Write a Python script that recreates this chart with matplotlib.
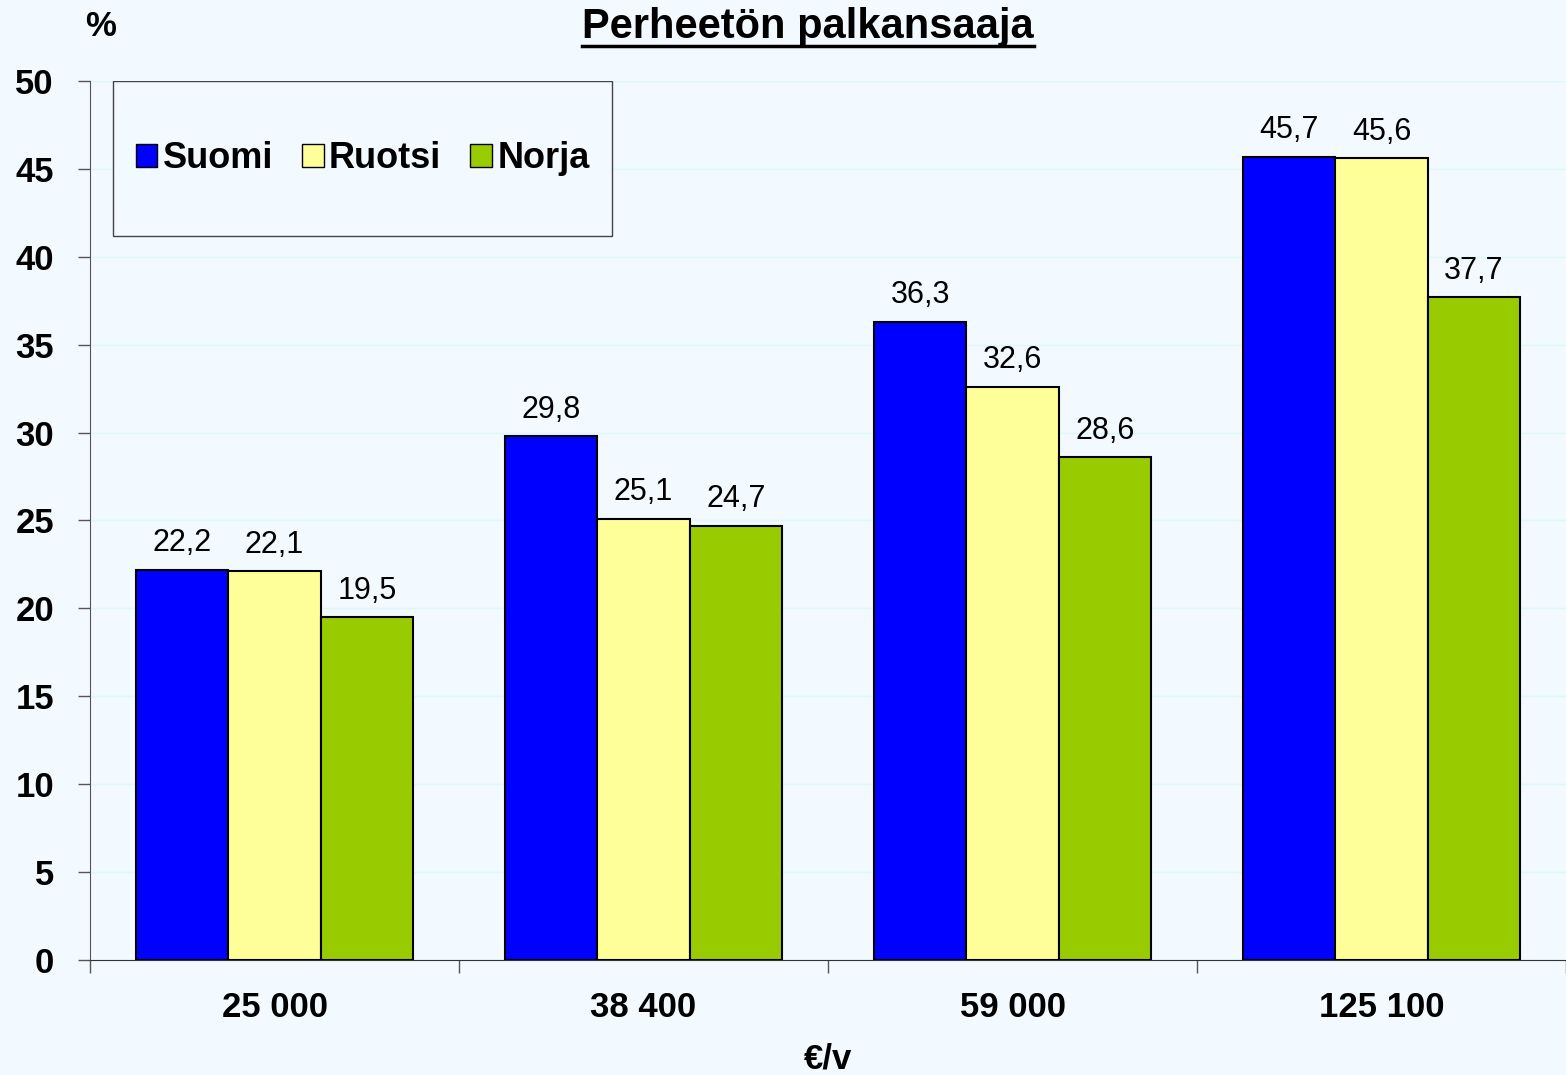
import numpy as np
import matplotlib.pyplot as plt
from matplotlib.patches import Rectangle
from matplotlib.lines import Line2D

plt.rcParams['font.family'] = ['Liberation Sans', 'DejaVu Sans']

categories = ['25 000', '38 400', '59 000', '125 100']
series_names = ['Suomi', 'Ruotsi', 'Norja']
suomi = [22.2, 29.8, 36.3, 45.7]
ruotsi = [22.1, 25.1, 32.6, 45.6]
norja = [19.5, 24.7, 28.6, 37.7]
colors = ['#0000FF', '#FFFF99', '#99CC00']

bg = '#F2F9FF'
fig = plt.figure(figsize=(15.66, 10.75), dpi=100, facecolor=bg)
ax = fig.add_axes([0.0575, 0.107, 0.9425, 0.8177], facecolor=bg)

x = np.arange(len(categories))
width = 0.25
for i, (vals, col) in enumerate(zip([suomi, ruotsi, norja], colors)):
    pos = x + (i - 1) * width
    bars = ax.bar(pos, vals, width, color=col, edgecolor='black', linewidth=1.5, zorder=3)
    for b, v in zip(bars, vals):
        ax.text(b.get_x() + b.get_width() / 2, v + 0.65, f'{v:.1f}'.replace('.', ','),
                ha='center', va='bottom', fontsize=22, zorder=4)

ax.set_xlim(-0.5, 3.5)
ax.set_ylim(0, 50)
ax.set_yticks(np.arange(0, 51, 5))
ax.yaxis.grid(True, color='#DDF8FA', linewidth=1, zorder=0)
ax.set_axisbelow(True)

# category ticks between groups, labels in the centre
ax.set_xticks(np.arange(-0.5, 4.0, 1.0))
ax.set_xticklabels([])
ax.set_xticks(x, minor=True)
ax.set_xticklabels(categories, minor=True, fontsize=25, fontweight='bold')
ax.tick_params(axis='x', which='minor', length=0, pad=22)
ax.tick_params(axis='x', which='major', length=9, width=1, color='#555555')
ax.tick_params(axis='y', length=9, width=1, color='#555555', labelsize=25, pad=17)
for lab in ax.get_yticklabels():
    lab.set_fontweight('bold')

for s in ['top', 'right']:
    ax.spines[s].set_visible(False)
ax.spines['left'].set_color('#555555')
ax.spines['bottom'].set_color('#333333')

ax.set_xlabel('€/v', fontsize=25, fontweight='bold', labelpad=14)

# legend inside a box
ax.add_patch(Rectangle((0.0156, 0.8237), 0.3381, 0.1763, transform=ax.transAxes,
                       facecolor=bg, edgecolor='#444444', linewidth=1, zorder=5))
handles = [Rectangle((0, 0), 1, 1, facecolor=c, edgecolor='black', linewidth=1) for c in colors]
leg = ax.legend(handles, series_names, loc='center', bbox_to_anchor=(0.1846, 0.9118),
                frameon=False, ncol=3, prop={'weight': 'bold', 'size': 26},
                handlelength=0.6, handleheight=0.6, handletextpad=0.15, columnspacing=0.8)
leg.set_zorder(6)

fig.text(0.064, 0.975, '%', fontsize=25, fontweight='bold', ha='center', va='center')
title = fig.text(0.516, 0.975, 'Perheetön palkansaaja', fontsize=30, fontweight='bold',
                 ha='center', va='center')

fig.canvas.draw()
bb = title.get_window_extent().transformed(fig.transFigure.inverted())
fig.add_artist(Line2D([bb.x0, bb.x1], [bb.y0 + 0.001, bb.y0 + 0.001], color='black',
                      linewidth=2.5, transform=fig.transFigure))

fig.savefig('out.png', dpi=100, facecolor=bg)
